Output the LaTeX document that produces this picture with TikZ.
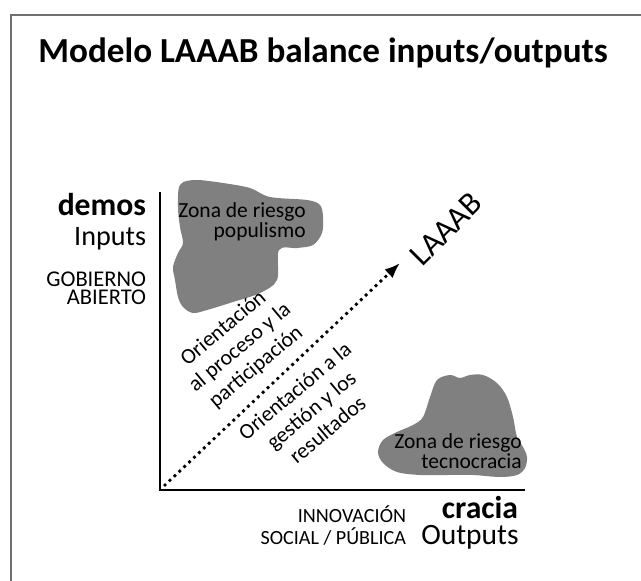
\documentclass[tikz,border=0pt]{standalone}
\usepackage{fontspec}
\setmainfont{Carlito}
\usetikzlibrary{arrows.meta}
\definecolor{zonegray}{RGB}{128,128,128}
\definecolor{framegray}{RGB}{112,112,112}

\begin{document}
\begin{tikzpicture}[x=0.025cm,y=-0.025cm]
			\useasboundingbox (0,0) rectangle (641,581);
			\draw[framegray, line width=1pt] (11,581) -- (11,15) -- (641,15);
			\node[anchor=base, font=\bfseries\fontsize{25}{28}\selectfont] (title) at (323,62) {Modelo LAAAB balance inputs/outputs};
			% zonas de riesgo
			\fill[zonegray] plot[smooth cycle, tension=0.55] coordinates {(180,185) (195,180) (223,183) (250,188) (270,197) (307,200) (320,205) (323,217) (322,233) (313,245) (297,248) (279,250) (277,280) (260,293) (233,302) (207,310) (193,313) (183,307) (178,297) (175,280) (173,267) (178,253) (183,243) (180,227) (178,207)};
			\fill[zonegray] plot[smooth cycle, tension=0.55] coordinates {(437,380) (450,375) (460,378) (470,375) (483,375) (497,383) (507,397) (513,417) (517,437) (523,447) (527,457) (525,468) (517,475) (500,477) (473,475) (447,475) (420,475) (397,472) (383,463) (378,452) (383,440) (397,432) (413,425) (423,417) (430,397)};
			\node[anchor=base east, inner sep=0pt, font=\fontsize{15.3}{16}\selectfont] (populismo) at (306,217) {Zona de riesgo};
			\node[anchor=base east, inner sep=0pt, font=\fontsize{15.3}{16}\selectfont] (populismo2) at (306,237) {populismo};
			\node[anchor=base east, inner sep=0pt, font=\fontsize{15.3}{16}\selectfont] (tecnocracia) at (522,448) {Zona de riesgo};
			\node[anchor=base east, inner sep=0pt, font=\fontsize{15.3}{16}\selectfont] (tecnocracia2) at (522,468) {tecnocracia};
			% ejes
			\coordinate (ytop) at (160,192);
			\coordinate (origen) at (160,490);
			\coordinate (xend) at (525,490);
			\draw[line width=2pt] (ytop) -- (origen) -- (xend);
			\node[anchor=base east, font=\bfseries\fontsize{22.5}{24}\selectfont] (demos) at (151,215) {demos};
			\node[anchor=base east, font=\fontsize{20}{22}\selectfont] (inputs) at (151,245) {Inputs};
			\node[anchor=base east, font=\fontsize{16}{16}\selectfont] (gobierno) at (151,286) {GOBIERNO};
			\node[anchor=base east, font=\fontsize{16}{16}\selectfont] (abierto) at (151,304) {ABIERTO};
			\node[anchor=base east, font=\fontsize{14.3}{16}\selectfont] (innovacion) at (411,522) {INNOVACIÓN};
			\node[anchor=base east, font=\fontsize{14.3}{16}\selectfont] (social) at (411,544) {SOCIAL / PÚBLICA};
			\node[anchor=base, font=\bfseries\fontsize{22.5}{24}\selectfont] (cracia) at (480,518) {cracia};
			\node[anchor=base, font=\fontsize{21}{22}\selectfont] (outputs) at (470,544) {Outputs};
			% diagonal LAAAB
			\coordinate (inicio) at (165,485);
			\coordinate (punta) at (400,263);
			\draw[line width=2.8pt, line cap=round, dash pattern=on 0pt off 4.8pt, -{Latex[length=11pt,width=8.5pt]}] (inicio) -- (punta);
			\node[rotate=45, font=\fontsize{23}{24}\selectfont] (laaab) at (446,229) {LAAAB};
			\node[rotate=40, align=center, font=\fontsize{15.5}{18}\selectfont] (proceso) at (240,348) {Orientación\\al proceso y la\\participación};
			\node[rotate=40, align=center, font=\fontsize{15.5}{18}\selectfont] (gestion) at (311,410) {Orientación a la\\gestión y los\\resultados};
%			\draw[thick] (origen) -- (punta);
	\end{tikzpicture}
\end{document}
